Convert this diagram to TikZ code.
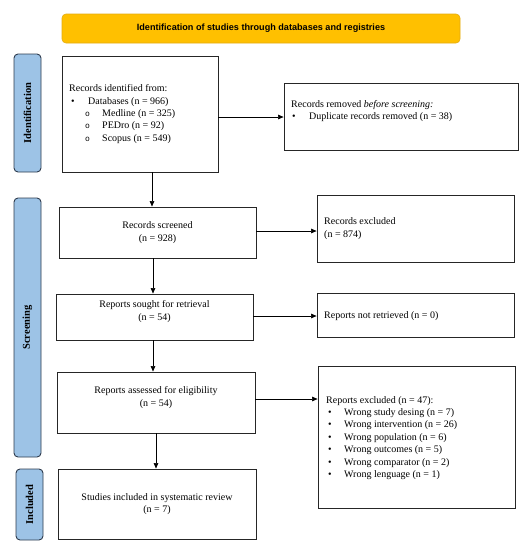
\documentclass[tikz,border=0pt]{standalone}
\usepackage{fontspec}
\setmainfont{Liberation Serif}
\newfontfamily\hdrfont{Liberation Sans}
\newfontfamily\subbfont{Liberation Mono}
\usetikzlibrary{arrows.meta}
\definecolor{hdrfill}{HTML}{FFC000}
\definecolor{hdrline}{HTML}{E3AC12}
\definecolor{sidefill}{HTML}{9DC3E6}
\definecolor{sideline}{HTML}{2E3B4E}
\newcommand{\subbul}{\makebox[17pt][l]{\subbfont\fontsize{8}{12}\selectfont o}}
\begin{document}
\begin{tikzpicture}[x=1pt,y=-1pt,
  box/.style={draw=black!85,line width=0.8pt,inner sep=0pt,font=\fontsize{10}{12.4}\selectfont},
  txt/.style={inner sep=0pt,font=\fontsize{10}{12.4}\selectfont},
  side/.style={draw=sideline,fill=sidefill,line width=0.9pt,rounded corners=4pt,inner sep=0pt},
  sidetxt/.style={rotate=90,font=\fontsize{10.5}{12}\selectfont\bfseries},
  conn/.style={line width=0.6pt,-{Triangle[length=5.5pt,width=4.5pt]}}]
\useasboundingbox (0,0) rectangle (526,550);
% header
\node[draw=hdrline,fill=hdrfill,rounded corners=4pt,line width=0.6pt,minimum width=398pt,minimum height=29pt,inner sep=0pt,
  font=\hdrfont\fontsize{9.1}{11}\selectfont\bfseries] (hdr) at (261,28.5) {Identification of studies through databases and registries};
% side labels
\node[side,minimum width=27pt,minimum height=118pt] (sid) at (27.5,113) {};
\node[sidetxt] (sidt) at (sid.center) {Identification};
\node[side,minimum width=27pt,minimum height=259pt] (ssc) at (27.5,327.5) {};
\node[sidetxt] (ssct) at (ssc.center) {Screening};
\node[side,minimum width=27pt,minimum height=71pt] (sin) at (29.5,504.5) {};
\node[sidetxt] (sint) at (sin.center) {Included};
% boxes
\node[box,minimum width=156pt,minimum height=116pt] (rid) at (140,114) {};
\node[txt,anchor=west,align=left] (ridt) at (69,114) {Records identified from:\\
\hspace*{2pt}\makebox[17pt][l]{\textbullet}Databases (n = 966)\\
\hspace*{16pt}\subbul Medline (n = 325)\\
\hspace*{16pt}\subbul PEDro (n = 92)\\
\hspace*{16pt}\subbul Scopus (n = 549)};
\node[box,minimum width=234pt,minimum height=67pt] (rrm) at (401,116.5) {};
\node[txt,anchor=west,align=left] (rrmt) at (291,111) {Records removed \textit{before screening:}\\
\hspace*{1pt}\makebox[17pt][l]{\textbullet}Duplicate records removed (n = 38)};
\node[box,minimum width=197pt,minimum height=51pt,align=center] (rsc) at (157.5,232.5) {Records screened\\(n = 928)};
\node[box,minimum width=197pt,minimum height=67pt] (rex) at (415.5,228.5) {};
\node[txt,anchor=west,align=left] (rext) at (324,228.5) {Records excluded\\(n = 874)};
\node[box,minimum width=197pt,minimum height=46pt] (rsr) at (154.5,317) {};
\node[txt,align=center] (rsrt) at (154.5,311.5) {Reports sought for retrieval\\(n = 54)};
\node[box,minimum width=197pt,minimum height=44pt] (rnr) at (415.5,315) {};
\node[txt,anchor=west] (rnrt) at (324,316) {Reports not retrieved (n = 0)};
\node[box,minimum width=198pt,minimum height=61pt] (ras) at (156,402.5) {};
\node[txt,align=center] (rast) at (156,397.5) {Reports assessed for eligibility\\(n = 54)};
\node[box,minimum width=197pt,minimum height=142pt] (rx) at (416.5,437) {};
\node[txt,anchor=west,align=left] (rxt) at (326,438) {Reports excluded (n = 47):\\
\hspace*{2pt}\makebox[16pt][l]{\textbullet}Wrong study desing (n = 7)\\
\hspace*{2pt}\makebox[16pt][l]{\textbullet}Wrong intervention (n = 26)\\
\hspace*{2pt}\makebox[16pt][l]{\textbullet}Wrong population (n = 6)\\
\hspace*{2pt}\makebox[16pt][l]{\textbullet}Wrong outcomes (n = 5)\\
\hspace*{2pt}\makebox[16pt][l]{\textbullet}Wrong comparator (n = 2)\\
\hspace*{2pt}\makebox[16pt][l]{\textbullet}Wrong lenguage (n = 1)};
\node[box,minimum width=198pt,minimum height=70pt,align=center] (sin2) at (157,504) {Studies included in systematic review\\(n = 7)};
% connectors
\draw[conn] (rid.east |- 0,117) -- (rrm.west |- 0,117);
\draw[conn] (rid.south -| 152,0) -- (rsc.north -| 152,0);
\draw[conn] (rsc.east |- 0,231) -- (rex.west |- 0,231);
\draw[conn] (rsc.south -| 153,0) -- (rsr.north -| 153,0);
\draw[conn] (rsr.east |- 0,316) -- (rnr.west |- 0,316);
\draw[conn] (rsr.south -| 153,0) -- (ras.north -| 153,0);
\draw[conn] (ras.east |- 0,399) -- (rx.west |- 0,399);
\draw[conn] (ras.south -| 156,0) -- (sin2.north -| 156,0);
\end{tikzpicture}
\end{document}
